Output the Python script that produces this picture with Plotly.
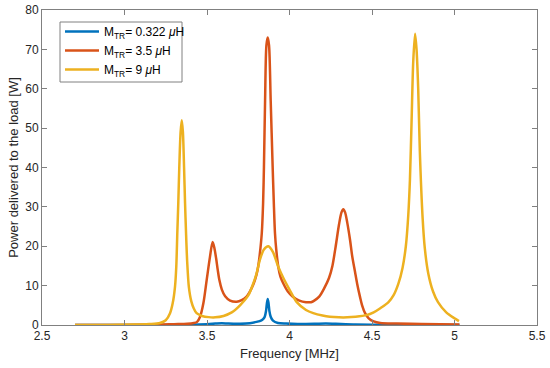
import plotly.graph_objects as go

# ---- data ----
blue_name = "M<sub>TR</sub>= 0.322 <i>μ</i>H"
red_name = "M<sub>TR</sub>= 3.5 <i>μ</i>H"
yellow_name = "M<sub>TR</sub>= 9 <i>μ</i>H"

blue_f = [2.70, 3.40, 3.50, 3.55, 3.59, 3.63, 3.70, 3.76, 3.80, 3.83, 3.84, 3.85, 3.858, 3.863,
          3.868, 3.873, 3.878, 3.886, 3.90, 3.93, 3.98, 4.05, 4.15, 4.22, 4.28, 4.40, 4.60, 5.03]
blue_p = [0.0, 0.05, 0.2, 0.35, 0.45, 0.35, 0.3, 0.45, 0.8, 1.2, 1.5, 2.1, 3.6, 5.5,
          6.6, 5.5, 3.6, 2.1, 1.1, 0.5, 0.35, 0.25, 0.3, 0.4, 0.3, 0.1, 0.05, 0.02]

red_f = [2.70, 3.00, 3.20, 3.30, 3.38, 3.42, 3.44, 3.458, 3.478, 3.498, 3.518, 3.534, 3.545,
         3.555, 3.565, 3.575, 3.59, 3.61, 3.64, 3.68, 3.71, 3.74, 3.78, 3.80, 3.81, 3.82,
         3.832, 3.84, 3.845, 3.852, 3.86, 3.868, 3.876, 3.886, 3.898, 3.905, 3.912, 3.92,
         3.932, 3.945, 3.962, 3.99, 4.02, 4.06, 4.10, 4.13, 4.15, 4.18, 4.21, 4.24, 4.26,
         4.28, 4.30, 4.315, 4.326, 4.337, 4.35, 4.367, 4.38, 4.397, 4.41, 4.427, 4.44,
         4.458, 4.48, 4.51, 4.55, 4.65, 4.80, 5.03]
red_p = [0.0, 0.02, 0.08, 0.2, 0.3, 0.5, 0.8, 2.1, 5.5, 11.4, 17.3, 21.1, 19.5,
         17.0, 14.0, 11.4, 9.0, 7.3, 6.2, 5.9, 6.3, 7.2, 10.2, 12.8, 14.8, 18.0,
         23.3, 31.0, 40.0, 57.0, 71.0, 73.0, 71.0, 57.0, 40.0, 31.0, 23.3, 19.0,
         14.8, 12.3, 10.6, 8.5, 7.2, 6.2, 5.8, 5.8, 6.2, 7.2, 9.3, 12.0, 15.0,
         20.0, 25.5, 28.6, 29.4, 28.6, 26.0, 21.6, 17.5, 13.5, 10.5, 7.2, 5.0,
         3.0, 1.7, 0.9, 0.5, 0.35, 0.25, 0.15]

yellow_f = [2.70, 2.90, 3.05, 3.15, 3.215, 3.25, 3.276, 3.292, 3.306, 3.314, 3.32, 3.326,
            3.332, 3.34, 3.347, 3.354, 3.361, 3.367, 3.373, 3.38, 3.39, 3.405, 3.42, 3.437,
            3.47, 3.51, 3.55, 3.60, 3.65, 3.70, 3.75, 3.78, 3.80, 3.82, 3.845, 3.872, 3.90,
            3.93, 3.962, 4.00, 4.044, 4.10, 4.144, 4.20, 4.245, 4.30, 4.35, 4.40, 4.467,
            4.51, 4.548, 4.60, 4.63, 4.66, 4.685, 4.705, 4.72, 4.73, 4.74, 4.75, 4.761, 4.77,
            4.78, 4.79, 4.807, 4.82, 4.841, 4.87, 4.90, 4.95, 5.00, 5.027]
yellow_p = [0.0, 0.03, 0.1, 0.25, 0.5, 1.2, 3.0, 5.5, 9.7, 15.0, 23.3, 31.0,
            40.0, 49.0, 52.0, 49.0, 40.0, 31.0, 23.3, 16.0, 9.7, 6.0, 4.2, 3.0,
            2.3, 2.0, 1.95, 2.3, 3.2, 5.0, 7.5, 10.5, 13.0, 16.5, 19.2, 20.0, 18.5,
            15.0, 12.0, 9.0, 5.8, 3.8, 3.0, 2.4, 2.1, 1.95, 1.95, 2.1, 2.5,
            3.2, 4.2, 5.8, 7.5, 10.5, 14.5, 20.0, 28.0, 37.0, 52.0, 67.0, 74.0, 70.0,
            60.0, 44.0, 27.0, 19.5, 13.1, 8.5, 5.8, 3.2, 1.7, 1.0]

x_ticks = [2.5, 3, 3.5, 4, 4.5, 5, 5.5]
y_ticks = [0, 10, 20, 30, 40, 50, 60, 70, 80]

fig = go.Figure()
for name, xs, ys, col in [(blue_name, blue_f, blue_p, "#0072BD"),
                          (red_name, red_f, red_p, "#D95319"),
                          (yellow_name, yellow_f, yellow_p, "#EDB120")]:
    fig.add_trace(go.Scatter(x=xs, y=ys, mode="lines", name=name,
                             line=dict(color=col, width=2.5, shape="spline", smoothing=0.8)))

axis_common = dict(showline=True, mirror="ticks", linecolor="#808080", linewidth=1,
                   ticks="inside", ticklen=5, tickcolor="#808080", showgrid=False,
                   zeroline=False, automargin=False, tickfont=dict(size=12, color="#262626"))
fig.update_xaxes(range=[2.5, 5.5], tickvals=x_ticks, ticktext=[str(v) for v in x_ticks],
                 title=dict(text="Frequency [MHz]", font=dict(size=13, color="#262626"), standoff=6),
                 **axis_common)
fig.update_yaxes(range=[0, 80], tickvals=y_ticks,
                 title=dict(text="Power delivered to the load [W]", font=dict(size=13, color="#262626"), standoff=3),
                 **axis_common)
# legend frame (drawn as a shape so the entries can sit as in the reference)
fig.add_shape(type="rect", xref="paper", yref="paper",
              x0=18 / 495, x1=140 / 495, y0=1 - 72 / 315, y1=1 - 12 / 315,
              line=dict(color="#808080", width=1), fillcolor="white", layer="below")
fig.update_layout(
    width=550, height=368,
    margin=dict(l=42, r=13, t=10, b=43),
    paper_bgcolor="white", plot_bgcolor="white",
    font=dict(family="Liberation Sans, Arial, sans-serif", color="#262626"),
    legend=dict(x=18 / 495, y=1 - 7 / 315, xanchor="left", yanchor="top",
                borderwidth=0, bgcolor="rgba(0,0,0,0)", itemwidth=34,
                font=dict(size=12, color="#000000"), tracegroupgap=0),
    showlegend=True,
)
fig.write_html("out.html", config={"displayModeBar": False},
               post_script="document.body.style.margin='0';document.body.style.overflow='hidden';")
